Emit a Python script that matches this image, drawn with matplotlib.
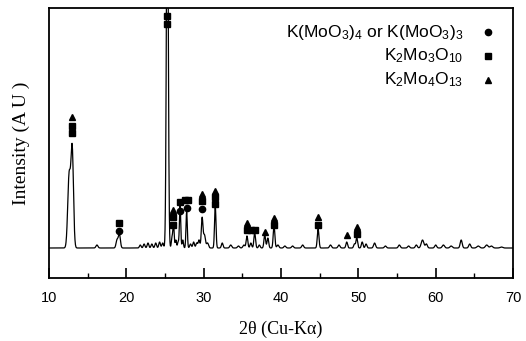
import numpy as np
import matplotlib
matplotlib.use("Agg")
import matplotlib.pyplot as plt
from matplotlib.ticker import MultipleLocator

# ---- data (y in arbitrary units, baseline ~30) ----
baseline = 30.0
peak_pos = [12.6, 13.0, 16.2, 18.8, 19.1, 21.8, 22.3, 22.8, 23.3, 23.8, 24.3, 24.7,
            25.3, 25.9, 26.1, 26.4, 26.7, 26.95, 27.3, 27.8, 28.3, 28.7, 29.1, 29.4,
            29.8, 30.1, 30.5, 31.5, 32.4, 33.5, 34.5, 35.2, 35.6, 36.1, 36.6, 37.2,
            37.9, 38.3, 39.1, 39.6, 40.5, 41.5, 42.8, 44.8, 46.4, 47.5, 48.5, 49.5,
            49.8, 50.5, 51.0, 52.1, 53.5, 55.3, 56.5, 57.5, 58.3, 58.8, 60.0, 61.0,
            62.0, 63.3, 64.4, 65.5, 66.6, 67.2, 68.5]
peak_amp = [72, 98, 3, 8, 14, 3, 4, 5, 4, 5, 6, 5,
            400, 10, 24, 8, 6, 42, 8, 36, 4, 6, 5, 8,
            30, 13, 5, 42, 5, 3, 2, 3, 12, 5, 15, 3,
            13, 10, 22, 3, 2, 2, 3, 19, 3, 3, 6, 4,
            10, 6, 4, 5, 2, 3, 2, 3, 8, 4, 3, 3,
            2, 8, 4, 2, 3, 2, 1]
peak_fwhm = [0.42, 0.38, 0.3, 0.3, 0.3, 0.25, 0.25, 0.25, 0.25, 0.25, 0.25, 0.25,
             0.28, 0.2, 0.2, 0.2, 0.2, 0.2, 0.2, 0.2, 0.25, 0.25, 0.25, 0.25,
             0.25, 0.3, 0.3, 0.22, 0.25, 0.3, 0.3, 0.3, 0.25, 0.25, 0.25, 0.25,
             0.25, 0.25, 0.25, 0.3, 0.3, 0.3, 0.3, 0.25, 0.3, 0.3, 0.25, 0.25,
             0.25, 0.25, 0.25, 0.3, 0.3, 0.3, 0.3, 0.3, 0.4, 0.3, 0.3, 0.35,
             0.35, 0.3, 0.3, 0.4, 0.4, 0.4, 0.4]

circle_x = [19.1, 27.0, 27.9, 29.8]
circle_y = [47, 67, 70, 69]
square_x = [13.0, 13.0, 19.1, 25.3, 25.3, 26.0, 26.0, 27.0, 27.6, 28.0, 29.8, 31.5, 31.5,
            35.6, 36.1, 36.6, 39.1, 44.8, 49.8]
square_y = [152, 145, 55, 262, 254, 61, 53, 76, 78, 78, 77, 81, 74,
            48, 48, 48, 53, 53, 44]
tri_x = [13.0, 26.0, 29.8, 31.5, 35.6, 37.9, 39.1, 44.8, 48.5, 49.8]
tri_y = [161, 68, 84, 87, 55, 46, 60, 61, 43, 51]

legend_labels = [r"$\mathregular{K(MoO_3)_4}$ or $\mathregular{K(MoO_3)_3}$",
                 r"$\mathregular{K_2Mo_3O_{10}}$",
                 r"$\mathregular{K_2Mo_4O_{13}}$"]
legend_markers = ["o", "s", "^"]

# ---- build pattern ----
x = np.linspace(10, 70, 3000)
y = np.full_like(x, baseline)
for p, a, w in zip(peak_pos, peak_amp, peak_fwhm):
    y += a * np.exp(-4 * np.log(2) * ((x - p) / w) ** 2)

fig = plt.figure(figsize=(5.26, 3.41), dpi=100)
ax = fig.add_axes([49/526, 63/341, 464/526, 270/341])
ax.plot(x, y, color="black", lw=0.9)
ms = 5
ax.plot(circle_x, circle_y, "o", color="black", ms=ms - 0.5, ls="none")
ax.plot(square_x, square_y, "s", color="black", ms=ms, ls="none")
ax.plot(tri_x, tri_y, "^", color="black", ms=ms, ls="none")

ax.set_xlim(10, 70)
ax.set_ylim(0, 270)
ax.xaxis.set_major_locator(MultipleLocator(10))
ax.xaxis.set_minor_locator(MultipleLocator(5))
ax.set_yticks([])
ax.tick_params(axis="x", which="major", direction="in", length=7, width=1.2, top=False,
               labelsize=10.5, pad=9)
ax.tick_params(axis="x", which="minor", direction="in", length=3.5, width=1.0, top=False)
for lab in ax.get_xticklabels():
    lab.set_fontfamily("Liberation Sans")
for s in ax.spines.values():
    s.set_linewidth(1.3)

ax.set_xlabel("2θ (Cu-Kα)", family="Liberation Serif", fontsize=13, labelpad=12)
ax.set_ylabel("Intensity (A U )", family="Liberation Serif", fontsize=14, labelpad=14)

# legend-like annotations
legend_rows_y = [246, 222, 198]
for lab, mk, ty in zip(legend_labels, legend_markers, legend_rows_y):
    ax.text(63.6, ty, lab, ha="right", va="center", fontsize=12.5,
            family="Liberation Sans")
    ax.plot([66.8], [ty], marker=mk, color="black", ms=4.5, ls="none")

fig.savefig("out.png", dpi=100)
